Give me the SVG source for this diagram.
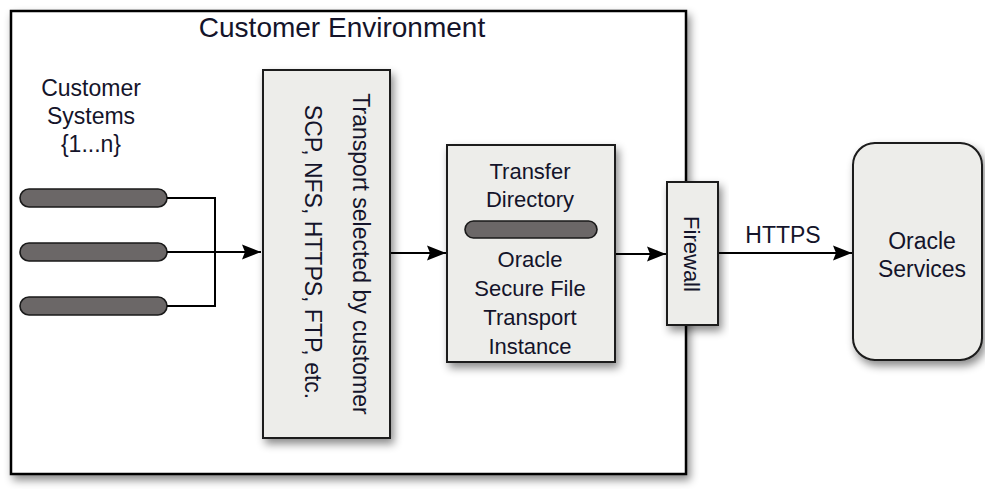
<svg xmlns="http://www.w3.org/2000/svg" width="985" height="489" viewBox="0 0 985 489">
<style>
  .t{font-family:"Liberation Sans",Arial,sans-serif;fill:#14142a;}
  .box{fill:#ededea;stroke:#1a1a1a;stroke-width:2;}
  .bar{fill:#6b6767;stroke:#1a1a1a;stroke-width:1.6;}
  .conn{fill:none;stroke:#000;stroke-width:2;}
</style>
<defs>
  <filter id="sh" x="-10%" y="-10%" width="130%" height="130%">
    <feDropShadow dx="3" dy="5" stdDeviation="4" flood-color="#000" flood-opacity="0.45"/>
  </filter>
  <marker id="arr" markerUnits="userSpaceOnUse" markerWidth="20" markerHeight="18" viewBox="0 0 20 18" refX="19" refY="9" orient="auto">
    <path d="M0,1.5 L19,9 L0,16.5 L3,9 Z" fill="#000"/>
  </marker>
</defs>
<rect width="985" height="489" fill="#fff"/>

<g id="customer-environment">
  <rect x="11" y="11" width="675" height="463" fill="#fff" stroke="#000" stroke-width="2.5" filter="url(#sh)"/>
  <text class="t" x="342" y="37" font-size="28" text-anchor="middle">Customer Environment</text>
</g>

<g id="customer-systems">
  <text class="t" x="91" y="96" font-size="23" text-anchor="middle">Customer</text>
  <text class="t" x="91" y="124" font-size="23" text-anchor="middle">Systems</text>
  <text class="t" x="91" y="152" font-size="23" text-anchor="middle">{1...n}</text>
  <rect class="bar" x="20" y="189" width="147" height="18" rx="9"/>
  <rect class="bar" x="20" y="243" width="147" height="18" rx="9"/>
  <rect class="bar" x="20" y="297" width="147" height="18" rx="9"/>
</g>

<g id="connectors">
  <path class="conn" d="M167,198 H215 V306 H167"/>
  <path class="conn" d="M167,252 H261" marker-end="url(#arr)"/>
  <path class="conn" d="M390,253 H446" marker-end="url(#arr)"/>
  <path class="conn" d="M615,254 H666" marker-end="url(#arr)"/>
  <path class="conn" d="M718,253 H852" marker-end="url(#arr)"/>
  <text class="t" x="783" y="243" font-size="23" text-anchor="middle">HTTPS</text>
</g>

<g id="transport">
  <rect class="box" x="263" y="70" width="127" height="368" filter="url(#sh)"/>
  <text class="t" font-size="23" text-anchor="middle" transform="translate(353,254) rotate(90)">Transport selected by customer</text>
  <text class="t" font-size="23" text-anchor="middle" transform="translate(305,252) rotate(90)">SCP, NFS, HTTPS, FTP, etc.</text>
</g>

<g id="transfer-directory">
  <rect class="box" x="447" y="145" width="168" height="217" filter="url(#sh)"/>
  <text class="t" x="530" y="179" font-size="22" text-anchor="middle">Transfer</text>
  <text class="t" x="530" y="207" font-size="22" text-anchor="middle">Directory</text>
  <rect class="bar" x="465" y="221" width="132" height="17" rx="8.5"/>
  <text class="t" x="530" y="267" font-size="22" text-anchor="middle">Oracle</text>
  <text class="t" x="530" y="296" font-size="22" text-anchor="middle">Secure File</text>
  <text class="t" x="530" y="325" font-size="22" text-anchor="middle">Transport</text>
  <text class="t" x="530" y="354" font-size="22" text-anchor="middle">Instance</text>
</g>

<g id="firewall">
  <rect class="box" x="667" y="182" width="51" height="143" filter="url(#sh)"/>
  <text class="t" font-size="22" text-anchor="middle" transform="translate(684,254) rotate(90)">Firewall</text>
</g>

<g id="oracle-services">
  <rect class="box" x="853" y="143" width="129" height="217" rx="22" filter="url(#sh)"/>
  <text class="t" x="922" y="249" font-size="23" text-anchor="middle">Oracle</text>
  <text class="t" x="922" y="277" font-size="23" text-anchor="middle">Services</text>
</g>
</svg>
